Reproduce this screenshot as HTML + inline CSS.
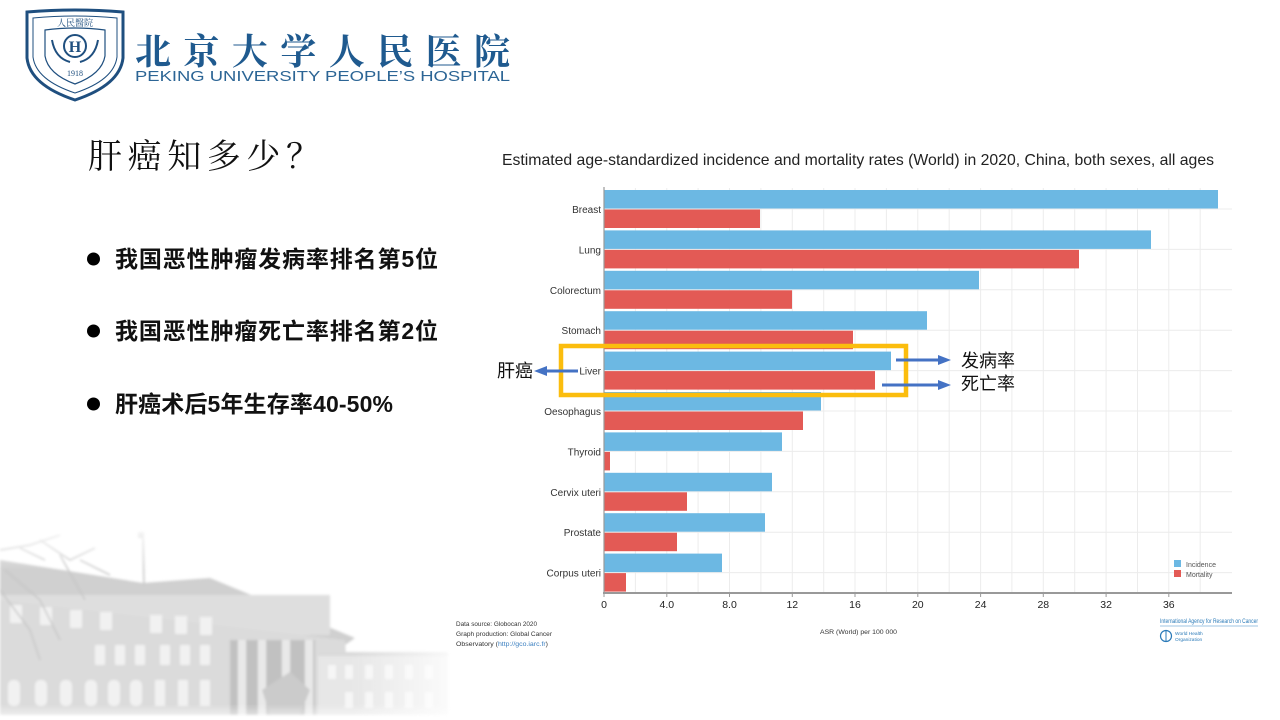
<!DOCTYPE html>
<html><head><meta charset="utf-8"><style>
html,body{margin:0;padding:0;background:#fff;}
svg{display:block;}
.cn{font-family:"Liberation Sans","Noto Sans CJK SC",sans-serif;}
</style></head><body>
<svg width="1280" height="720" viewBox="0 0 1280 720" xmlns="http://www.w3.org/2000/svg">
<defs>
<linearGradient id="fadeR" x1="0" y1="0" x2="1" y2="0">
<stop offset="0" stop-color="#fff" stop-opacity="1"/>
<stop offset="0.75" stop-color="#fff" stop-opacity="1"/>
<stop offset="1" stop-color="#fff" stop-opacity="0"/>
</linearGradient>
<linearGradient id="fadeT" x1="0" y1="0" x2="0" y2="1">
<stop offset="0" stop-color="#fff" stop-opacity="0"/>
<stop offset="0.25" stop-color="#fff" stop-opacity="1"/>
<stop offset="0.92" stop-color="#fff" stop-opacity="1"/>
<stop offset="1" stop-color="#fff" stop-opacity="0.3"/>
</linearGradient>
<mask id="bm">
<rect x="0" y="520" width="470" height="200" fill="url(#fadeR)"/>
</mask>
<mask id="bm2">
<rect x="0" y="520" width="470" height="200" fill="url(#fadeT)"/>
</mask>
<filter id="bl"><feGaussianBlur stdDeviation="1.4"/></filter>
</defs>

<!-- building -->
<g mask="url(#bm)"><g mask="url(#bm2)" filter="url(#bl)" opacity="0.55">
<polygon points="0,560 143,583 210,578 355,638 345,645 0,600" fill="#a9a9a9"/>
<rect x="0" y="595" width="330" height="40" fill="#c4c4c4"/>
<polygon points="0,600 345,640 350,715 0,715" fill="#bdbdbd"/>
<g fill="#e6e6e6">
<rect x="10" y="605" width="12" height="18"/><rect x="40" y="607" width="12" height="18"/><rect x="70" y="610" width="12" height="18"/><rect x="100" y="612" width="12" height="18"/><rect x="150" y="615" width="12" height="18"/><rect x="175" y="616" width="12" height="18"/><rect x="200" y="617" width="12" height="18"/>
<rect x="8" y="680" width="12" height="26" rx="5"/><rect x="35" y="680" width="12" height="26" rx="5"/><rect x="60" y="680" width="12" height="26" rx="5"/><rect x="85" y="680" width="12" height="26" rx="5"/><rect x="108" y="680" width="12" height="26" rx="5"/><rect x="130" y="680" width="12" height="26" rx="5"/>
<rect x="95" y="645" width="10" height="20"/><rect x="115" y="645" width="10" height="20"/><rect x="135" y="645" width="10" height="20"/><rect x="160" y="645" width="10" height="20"/><rect x="180" y="645" width="10" height="20"/><rect x="200" y="645" width="10" height="20"/>
<rect x="155" y="680" width="10" height="26"/><rect x="178" y="680" width="10" height="26"/><rect x="200" y="680" width="10" height="26"/>
</g>
<rect x="230" y="640" width="85" height="75" fill="#8f8f8f"/>
<g fill="#d8d8d8"><rect x="238" y="640" width="8" height="75"/><rect x="258" y="640" width="8" height="75"/><rect x="282" y="640" width="8" height="75"/><rect x="305" y="640" width="8" height="75"/></g>
<polygon points="262,690 290,672 310,690 300,715 270,715" fill="#a0a0a0"/>
<rect x="318" y="652" width="130" height="63" fill="#d3d3d3"/>
<rect x="318" y="652" width="130" height="4" fill="#bbb"/>
<g fill="#eeeeee"><rect x="328" y="665" width="8" height="14"/><rect x="345" y="665" width="8" height="14"/><rect x="365" y="665" width="8" height="14"/><rect x="385" y="665" width="8" height="14"/><rect x="405" y="665" width="8" height="14"/><rect x="425" y="665" width="8" height="14"/>
<rect x="345" y="692" width="8" height="16"/><rect x="365" y="692" width="8" height="16"/><rect x="385" y="692" width="8" height="16"/><rect x="405" y="692" width="8" height="16"/><rect x="425" y="692" width="8" height="16"/></g>
<line x1="143" y1="533" x2="144" y2="585" stroke="#999" stroke-width="1.5"/>
<rect x="138" y="532" width="6" height="6" fill="#aaa"/>
<g stroke="#9a9a9a" stroke-width="1.5" fill="none">
<path d="M0,550 L30,545 L60,535 M20,548 L45,560 M40,540 L70,560 L95,548 M60,555 L85,600 M5,570 L40,600 L60,640 M80,560 L110,575 M0,590 L30,630 L40,660"/>
</g>
</g></g>

<!-- logo -->
<g>
<path d="M27,12 Q75,8 123,12 L123,58 Q120,85 75,100 Q30,85 27,58 Z" fill="#fff" stroke="#1f4f7f" stroke-width="3"/>
<path d="M33,18 Q75,14 117,18 L117,57 Q114,80 75,93 Q36,80 33,57 Z" fill="none" stroke="#1f4f7f" stroke-width="1"/>
<path d="M45,30 Q75,26 105,30 L105,56 Q102,74 75,84 Q48,74 45,56 Z" fill="none" stroke="#1f4f7f" stroke-width="1.2"/>
<text x="75" y="26" font-size="9" fill="#1f4f7f" text-anchor="middle" font-family="Noto Serif CJK SC, serif">人民醫院</text>
<circle cx="75" cy="46" r="11" fill="none" stroke="#1f4f7f" stroke-width="2"/>
<text x="75" y="52" font-size="16" fill="#1f4f7f" text-anchor="middle" font-family="Liberation Serif, serif" font-weight="bold">H</text>
<path d="M52,40 Q55,58 70,62 M98,40 Q95,58 80,62" stroke="#1f4f7f" stroke-width="2" fill="none"/>
<text x="75" y="76" font-size="8" fill="#1f4f7f" text-anchor="middle" font-family="Liberation Serif, serif">1918</text>
</g>
<text x="135" y="64" font-size="36" fill="#1f5a8f" font-weight="bold" font-family="Noto Serif CJK SC, serif" textLength="375" lengthAdjust="spacing">北京大学人民医院</text>
<text x="135" y="81" font-size="15" fill="#2c6595" font-family="Liberation Sans, sans-serif" textLength="375" lengthAdjust="spacingAndGlyphs">PEKING UNIVERSITY PEOPLE’S HOSPITAL</text>

<!-- left title -->
<text x="88" y="168" font-size="34" fill="#111" font-family="Noto Serif CJK SC, serif" textLength="232" lengthAdjust="spacing">肝癌知多少？</text>

<!-- bullets -->
<g class="cn" font-size="23" font-weight="bold" fill="#111">
<circle cx="93.5" cy="259" r="6.5" fill="#000"/>
<text x="115" y="267" textLength="323" lengthAdjust="spacing">我国恶性肿瘤发病率排名第5位</text>
<circle cx="93.5" cy="331" r="6.5" fill="#000"/>
<text x="115" y="339" textLength="323" lengthAdjust="spacing">我国恶性肿瘤死亡率排名第2位</text>
<circle cx="93.5" cy="404" r="6.5" fill="#000"/>
<text x="115" y="412" textLength="278" lengthAdjust="spacing">肝癌术后5年生存率40-50%</text>
</g>

<!-- chart title -->
<text x="502" y="165" font-size="16" fill="#222" font-family="Liberation Sans, sans-serif" textLength="712" lengthAdjust="spacingAndGlyphs">Estimated age-standardized incidence and mortality rates (World) in 2020, China, both sexes, all ages</text>

<!-- grid -->
<g stroke="#ececec" stroke-width="1">
<line x1="635.4" y1="188" x2="635.4" y2="593"/><line x1="666.8" y1="188" x2="666.8" y2="593"/><line x1="698.1" y1="188" x2="698.1" y2="593"/><line x1="729.5" y1="188" x2="729.5" y2="593"/><line x1="760.9" y1="188" x2="760.9" y2="593"/><line x1="792.3" y1="188" x2="792.3" y2="593"/><line x1="823.7" y1="188" x2="823.7" y2="593"/><line x1="855" y1="188" x2="855" y2="593"/><line x1="886.4" y1="188" x2="886.4" y2="593"/><line x1="917.8" y1="188" x2="917.8" y2="593"/><line x1="949.2" y1="188" x2="949.2" y2="593"/><line x1="980.6" y1="188" x2="980.6" y2="593"/><line x1="1011.9" y1="188" x2="1011.9" y2="593"/><line x1="1043.3" y1="188" x2="1043.3" y2="593"/><line x1="1074.7" y1="188" x2="1074.7" y2="593"/><line x1="1106.1" y1="188" x2="1106.1" y2="593"/><line x1="1137.5" y1="188" x2="1137.5" y2="593"/><line x1="1168.8" y1="188" x2="1168.8" y2="593"/><line x1="1200.2" y1="188" x2="1200.2" y2="593"/>
<line x1="604" y1="209" x2="1232" y2="209"/><line x1="604" y1="249.4" x2="1232" y2="249.4"/><line x1="604" y1="289.8" x2="1232" y2="289.8"/><line x1="604" y1="330.2" x2="1232" y2="330.2"/><line x1="604" y1="370.6" x2="1232" y2="370.6"/><line x1="604" y1="411" x2="1232" y2="411"/><line x1="604" y1="451.4" x2="1232" y2="451.4"/><line x1="604" y1="491.8" x2="1232" y2="491.8"/><line x1="604" y1="532.2" x2="1232" y2="532.2"/><line x1="604" y1="572.6" x2="1232" y2="572.6"/>
</g>

<!-- bars -->
<g fill="#6cb8e3">
<rect x="604" y="190" width="614" height="18.5"/>
<rect x="604" y="230.4" width="547" height="18.5"/>
<rect x="604" y="270.8" width="375" height="18.5"/>
<rect x="604" y="311.2" width="323" height="18.5"/>
<rect x="604" y="351.6" width="287" height="18.5"/>
<rect x="604" y="392" width="217" height="18.5"/>
<rect x="604" y="432.4" width="178" height="18.5"/>
<rect x="604" y="472.8" width="168" height="18.5"/>
<rect x="604" y="513.2" width="161" height="18.5"/>
<rect x="604" y="553.6" width="118" height="18.5"/>
</g>
<g fill="#e35a55">
<rect x="604" y="209.5" width="156" height="18.5"/>
<rect x="604" y="249.9" width="475" height="18.5"/>
<rect x="604" y="290.3" width="188" height="18.5"/>
<rect x="604" y="330.7" width="249" height="18.5"/>
<rect x="604" y="371.1" width="271" height="18.5"/>
<rect x="604" y="411.5" width="199" height="18.5"/>
<rect x="604" y="451.9" width="6" height="18.5"/>
<rect x="604" y="492.3" width="83" height="18.5"/>
<rect x="604" y="532.7" width="73" height="18.5"/>
<rect x="604" y="573.1" width="22" height="18.5"/>
</g>

<!-- axes -->
<line x1="604" y1="187" x2="604" y2="594" stroke="#999" stroke-width="1.2"/>
<line x1="603" y1="593" x2="1232" y2="593" stroke="#999" stroke-width="2"/>
<g stroke="#999" stroke-width="1">
<line x1="604" y1="593" x2="604" y2="597"/><line x1="666.8" y1="593" x2="666.8" y2="597"/><line x1="729.5" y1="593" x2="729.5" y2="597"/><line x1="792.3" y1="593" x2="792.3" y2="597"/><line x1="855" y1="593" x2="855" y2="597"/><line x1="917.8" y1="593" x2="917.8" y2="597"/><line x1="980.6" y1="593" x2="980.6" y2="597"/><line x1="1043.3" y1="593" x2="1043.3" y2="597"/><line x1="1106.1" y1="593" x2="1106.1" y2="597"/><line x1="1168.8" y1="593" x2="1168.8" y2="597"/>
</g>
<g font-family="Liberation Sans, sans-serif" font-size="10.5" fill="#222" text-anchor="middle">
<text x="604" y="608">0</text><text x="666.8" y="608">4.0</text><text x="729.5" y="608">8.0</text><text x="792.3" y="608">12</text><text x="855" y="608">16</text><text x="917.8" y="608">20</text><text x="980.6" y="608">24</text><text x="1043.3" y="608">28</text><text x="1106.1" y="608">32</text><text x="1168.8" y="608">36</text>
</g>
<g font-family="Liberation Sans, sans-serif" font-size="10" fill="#333" text-anchor="end">
<text x="601" y="213">Breast</text><text x="601" y="253.4">Lung</text><text x="601" y="293.8">Colorectum</text><text x="601" y="334.2">Stomach</text><text x="601" y="374.6">Liver</text><text x="601" y="415">Oesophagus</text><text x="601" y="455.4">Thyroid</text><text x="601" y="495.8">Cervix uteri</text><text x="601" y="536.2">Prostate</text><text x="601" y="576.6">Corpus uteri</text>
</g>

<!-- legend -->
<rect x="1174" y="560" width="7" height="7" fill="#6cb8e3"/>
<rect x="1174" y="570" width="7" height="7" fill="#e35a55"/>
<g font-family="Liberation Sans, sans-serif" font-size="7" fill="#555">
<text x="1186" y="567">Incidence</text><text x="1186" y="577">Mortality</text>
</g>

<!-- footer -->
<g font-family="Liberation Sans, sans-serif" font-size="6.5" fill="#333">
<text x="456" y="626" textLength="81" lengthAdjust="spacingAndGlyphs">Data source: Globocan 2020</text>
<text x="456" y="636" textLength="96" lengthAdjust="spacingAndGlyphs">Graph production: Global Cancer</text>
<text x="456" y="646" textLength="92" lengthAdjust="spacingAndGlyphs">Observatory (<tspan fill="#3a7fc0">http://gco.iarc.fr</tspan>)</text>
<text x="820" y="634" textLength="77" lengthAdjust="spacingAndGlyphs">ASR (World) per 100 000</text>
</g>
<text x="1160" y="623" font-family="Liberation Sans, sans-serif" font-size="6" fill="#2a7ab8" textLength="98" lengthAdjust="spacingAndGlyphs">International Agency for Research on Cancer</text>
<line x1="1160" y1="626" x2="1258" y2="626" stroke="#7fb3da" stroke-width="0.8"/>
<circle cx="1166" cy="636" r="5.5" fill="none" stroke="#2a7ab8" stroke-width="1.2"/>
<line x1="1166" y1="631" x2="1166" y2="641" stroke="#2a7ab8" stroke-width="1"/>
<g font-family="Liberation Sans, sans-serif" font-size="4.8" fill="#2a7ab8">
<text x="1175" y="635">World Health</text><text x="1175" y="641">Organization</text>
</g>

<!-- highlight box -->
<rect x="561" y="346" width="345" height="49" fill="none" stroke="#fbbd0e" stroke-width="4.5"/>

<!-- arrows -->
<g stroke="#4472c4" stroke-width="3" fill="#4472c4">
<line x1="896" y1="360" x2="940" y2="360"/>
<polygon points="938,355 951,360 938,365" stroke="none"/>
<line x1="882" y1="385" x2="940" y2="385"/>
<polygon points="938,380 951,385 938,390" stroke="none"/>
<line x1="578" y1="371" x2="545" y2="371"/>
<polygon points="547,366 534,371 547,376" stroke="none"/>
</g>
<g class="cn" font-size="18" fill="#111">
<text x="961" y="367">发病率</text>
<text x="961" y="390">死亡率</text>
<text x="497" y="377">肝癌</text>
</g>
</svg>
</body></html>
